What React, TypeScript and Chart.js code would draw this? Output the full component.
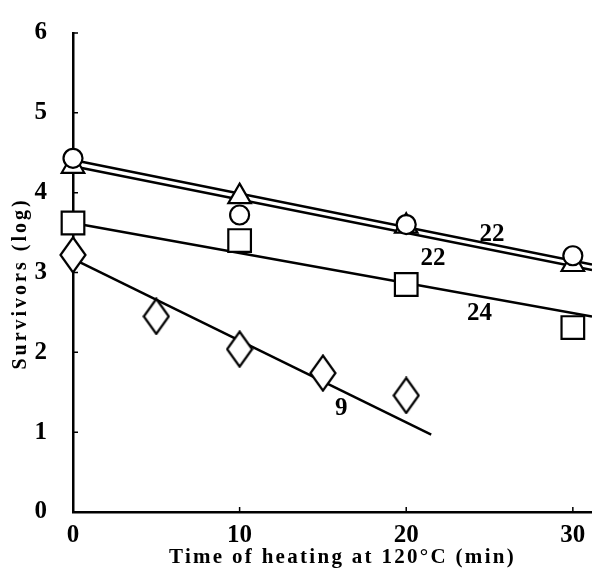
import React, { useEffect, useRef } from "react";
import { Chart, registerables } from "chart.js";

Chart.register(...registerables);

// Axis setup
const xTickValues = [0, 10, 20, 30];
const yTickValues = [0, 1, 2, 3, 4, 5, 6];
const xMin = 0;
const xMax = 31.15;
const yMin = 0;
const yMax = 6;

const xTitle = "Time of heating at 120°C (min)";
const yTitle = "Survivors (log)";

// Observed points
const circleX = [0, 10, 20, 30];
const circleY = [4.43, 3.72, 3.6, 3.21];
const triangleX = [0, 10, 20, 30];
const triangleY = [4.33, 3.95, 3.58, 3.1];
const squareX = [0, 10, 20, 30];
const squareY = [3.62, 3.4, 2.85, 2.31];
const diamondX = [0, 5, 10, 15, 20];
const diamondY = [3.22, 2.45, 2.04, 1.74, 1.46];

// Fitted lines (end points)
const fitUpperX = [0, 31.15];
const fitUpperY = [4.41, 3.1];
const fitLowerX = [0, 31.15];
const fitLowerY = [4.33, 3.03];
const fitSquareX = [0, 31.15];
const fitSquareY = [3.62, 2.45];
const fitDiamondX = [0, 21.5];
const fitDiamondY = [3.17, 0.97];

// Line labels
const lineLabels = ["22", "22", "24", "9"];
const lineLabelX = [25.15, 21.6, 24.4, 16.1];
const lineLabelY = [3.47, 3.18, 2.48, 1.29];

const toPts = (xs: number[], ys: number[]) => xs.map((x, i) => ({ x, y: ys[i] }));

const SERIF = "'Liberation Serif', 'DejaVu Serif', serif";

function makeDiamond(): HTMLCanvasElement {
  const c = document.createElement("canvas");
  const w = 28;
  const h = 38;
  c.width = w;
  c.height = h;
  const ctx = c.getContext("2d")!;
  ctx.beginPath();
  ctx.moveTo(w / 2, 1.5);
  ctx.lineTo(w - 1.5, h / 2);
  ctx.lineTo(w / 2, h - 1.5);
  ctx.lineTo(1.5, h / 2);
  ctx.closePath();
  ctx.fillStyle = "#ffffff";
  ctx.fill();
  ctx.lineWidth = 2.2;
  ctx.strokeStyle = "#000000";
  ctx.stroke();
  return c;
}

const decorPlugin = {
  id: "decor",
  afterDraw(chart: any) {
    const ctx = chart.ctx as CanvasRenderingContext2D;
    const xs = chart.scales.x;
    const ys = chart.scales.y;
    const area = chart.chartArea;
    ctx.save();
    // inward tick marks
    ctx.strokeStyle = "#000";
    ctx.lineWidth = 1.5;
    ctx.beginPath();
    xTickValues.forEach((v) => {
      const px = xs.getPixelForValue(v);
      ctx.moveTo(px, area.bottom);
      ctx.lineTo(px, area.bottom - 5);
    });
    yTickValues.forEach((v) => {
      const py = ys.getPixelForValue(v);
      ctx.moveTo(area.left, py);
      ctx.lineTo(area.left + 5, py);
    });
    ctx.stroke();

    // line labels
    ctx.fillStyle = "#000";
    ctx.font = `bold 25px ${SERIF}`;
    ctx.textAlign = "center";
    ctx.textBaseline = "middle";
    lineLabels.forEach((t, i) => {
      ctx.fillText(t, xs.getPixelForValue(lineLabelX[i]), ys.getPixelForValue(lineLabelY[i]));
    });

    // titles
    (ctx as any).letterSpacing = "2.3px";
    ctx.font = `bold 21px ${SERIF}`;
    ctx.fillText(xTitle, (area.left + area.right) / 2 + 10, area.bottom + 46);

    ctx.translate(21, (area.top + area.bottom) / 2 + 11);
    ctx.rotate(-Math.PI / 2);
    (ctx as any).letterSpacing = "3px";
    ctx.font = `bold 20px ${SERIF}`;
    ctx.fillText(yTitle, 0, 0);
    ctx.restore();
  },
};

export default function App() {
  const ref = useRef<HTMLCanvasElement | null>(null);

  useEffect(() => {
    document.body.style.margin = "0";
    const canvas = ref.current;
    if (!canvas) return;
    const diamond = makeDiamond();

    const lineDs = (xs: number[], ys: number[]) => ({
      data: toPts(xs, ys),
      showLine: true,
      borderColor: "#000",
      borderWidth: 2.5,
      pointRadius: 0,
      fill: false,
      clip: false,
      order: 2,
    });
    const markDs = (xs: number[], ys: number[], style: any, r: number) => ({
      data: toPts(xs, ys),
      showLine: false,
      pointStyle: style,
      pointRadius: r,
      pointBorderColor: "#000",
      pointBackgroundColor: "#fff",
      pointBorderWidth: 2.2,
      clip: false,
      order: 1,
    });

    const chart = new Chart(canvas, {
      type: "scatter",
      data: {
        datasets: [
          lineDs(fitUpperX, fitUpperY),
          lineDs(fitLowerX, fitLowerY),
          lineDs(fitSquareX, fitSquareY),
          lineDs(fitDiamondX, fitDiamondY),
          markDs(circleX, circleY, "circle", 9.5),
          markDs(triangleX, triangleY, "triangle", 13),
          markDs(squareX, squareY, "rect", 16),
          markDs(diamondX, diamondY, diamond, 14),
        ] as any,
      },
      options: {
        responsive: false,
        animation: false,
        events: [],
        layout: { padding: { top: 21, right: 0, left: 0, bottom: 0 }, autoPadding: false } as any,
        plugins: {
          legend: { display: false },
          tooltip: { enabled: false },
        },
        scales: {
          x: {
            type: "linear",
            min: xMin,
            max: xMax,
            afterBuildTicks: (s: any) => {
              s.ticks = xTickValues.map((v) => ({ value: v }));
            },
            afterFit: (s: any) => {
              s.height = 60;
            },
            grid: { display: false },
            border: { display: true, color: "#000", width: 2.5 },
            ticks: {
              color: "#000",
              padding: 1,
              maxRotation: 0,
              font: { family: SERIF, size: 25, weight: "bold" },
              callback: (v: any) => String(v),
            },
          },
          y: {
            type: "linear",
            min: yMin,
            max: yMax,
            afterBuildTicks: (s: any) => {
              s.ticks = yTickValues.map((v) => ({ value: v }));
            },
            afterFit: (s: any) => {
              s.width = 73;
            },
            grid: { display: false },
            border: { display: true, color: "#000", width: 2.5 },
            ticks: {
              color: "#000",
              padding: 18,
              font: { family: SERIF, size: 25, weight: "bold" },
              callback: (v: any) => String(v),
            },
          },
        },
      },
      plugins: [decorPlugin],
    });
    return () => chart.destroy();
  }, []);

  return (
    <div style={{ width: 592, height: 572 }}>
      <canvas ref={ref} width={592} height={572} style={{ display: "block" }} />
    </div>
  );
}
